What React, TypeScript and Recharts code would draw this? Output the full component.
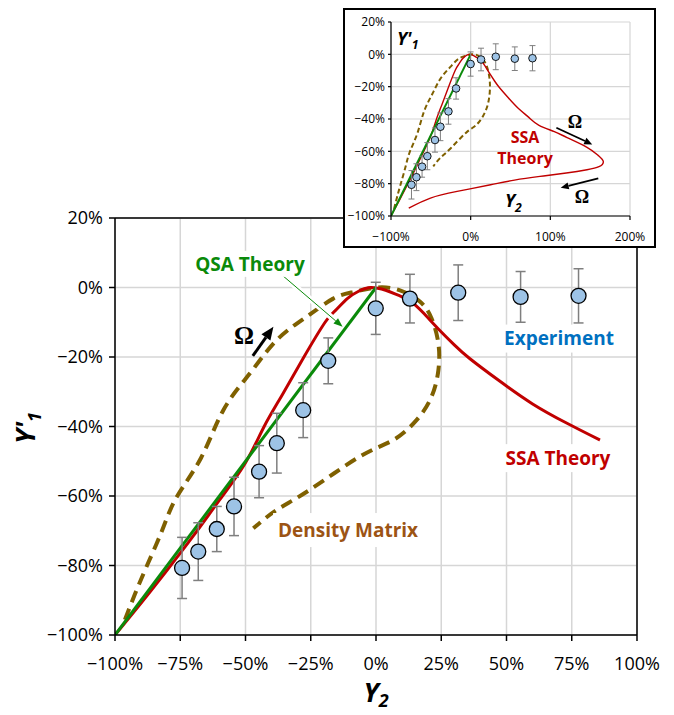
import React from "react";
import {
  CartesianGrid,
  ComposedChart,
  ErrorBar,
  Label,
  Line,
  ReferenceDot,
  ReferenceLine,
  Scatter,
  XAxis,
  YAxis,
} from "recharts";

// measured points (Y2 %, Y'1 %, error %)
const expX = [-74.3, -68.1, -61.0, -54.4, -44.8, -38.0, -27.9, -18.3, -0.1, 13.0, 31.5, 55.4, 77.6];
const expY = [-80.7, -76.0, -69.5, -63.0, -53.0, -44.8, -35.3, -21.1, -6.0, -3.2, -1.5, -2.7, -2.4];
const expErr = [8.8, 8.3, 6.5, 8.4, 7.5, 8.6, 7.9, 6.6, 7.5, 7.0, 8.0, 7.3, 7.8];

// SSA theory, branch seen in the main panel
const ssaOutX = [-100, -90, -80, -70, -60, -50, -43, -36, -28, -19.5, -15.5, -11, -6.5, -2, 3.7, 8.5, 13, 18, 24, 30, 36, 47.5, 60, 73, 85.8];
const ssaOutY = [-100, -90.8, -81.3, -71.5, -61.2, -50.4, -40.2, -31.0, -20.5, -10.0, -6.6, -3.2, -1.0, 0, -0.8, -2.2, -3.8, -7.2, -12, -16.5, -20.5, -27, -33.5, -39, -43.9];
// SSA theory, rest of the loop (inset only)
const ssaBackX = [105, 121, 146, 160, 166.5, 161, 146, 120, 87, 55, 25, -17, -50.5, -77.7];
const ssaBackY = [-47.8, -51.5, -57.5, -62.5, -66.3, -69.5, -71.4, -73.4, -75.5, -77.8, -80.7, -84.8, -88.9, -95.1];

// density matrix loop
const dmX = [-96.2, -92.5, -87.9, -82.0, -76.3, -67.0, -58.5, -48.3, -38.0, -26.6, -16.4, -8.7, 0.3, 9.2, 16.9, 21.3, 23.9, 23.9, 21.3, 15.6, 6.6, -6.1, -25.3, -38.0, -47.0];
const dmY = [-95.6, -88.5, -80.3, -70.0, -60.2, -49.0, -35.3, -24.7, -15.1, -8.4, -3.2, -1.3, 0, -0.8, -4.1, -8.9, -16.1, -23.8, -31.4, -38.1, -43.9, -48.6, -58.2, -64.0, -69.3];

// QSA theory
const qsaX = [-100, 0];
const qsaY = [-100, 0];

const mainXTicks = [-100, -75, -50, -25, 0, 25, 50, 75, 100];
const mainYTicks = [-100, -80, -60, -40, -20, 0, 20];
const insetXTicks = [-100, 0, 100, 200];
const insetYTicks = [-100, -80, -60, -40, -20, 0, 20];

const steps = (a: number, b: number, s: number) =>
  Array.from({ length: Math.round((b - a) / s) + 1 }, (_, i) => a + i * s);
const mainXMinor = steps(-100, 100, 5);
const mainYMinor = steps(-100, 20, 4);
const insetXMinor = steps(-100, 200, 20);
const insetYMinor = steps(-100, 20, 4);

const zip = (xs: number[], ys: number[]) => xs.map((x, i) => ({ x, y: ys[i] }));
const expData = expX.map((x, i) => ({ x, y: expY[i], err: expErr[i] }));
const ssaMain = zip(ssaOutX, ssaOutY);
const ssaFull = zip([...ssaOutX, ...ssaBackX], [...ssaOutY, ...ssaBackY]);
const dmData = zip(dmX, dmY);
const qsaData = zip(qsaX, qsaY);

const FONT = "'Open Sans', 'DejaVu Sans', sans-serif";
const SERIF = "'Liberation Serif', 'DejaVu Serif', serif";
const RED = "#c00000";
const GREEN = "#0a8a0a";
const DM = "#7f6000";
const PT = "#9dc3e6";
const ERR = "#7f7f7f";
const GRID = "#d6d6d6";

const pct = (v: number) => (v < 0 ? `\u2212${Math.abs(v)}%` : `${v}%`);
const blank = () => "";

const arrow = (color: string, w: number, head: number, headW: number, halo = 0) => (p: any) => {
  const { x1, y1, x2, y2 } = p;
  const len = Math.hypot(x2 - x1, y2 - y1) || 1;
  const ux = (x2 - x1) / len;
  const uy = (y2 - y1) / len;
  const bx = x2 - ux * head;
  const by = y2 - uy * head;
  const nx = (-uy * headW) / 2;
  const ny = (ux * headW) / 2;
  return (
    <g>
      {halo > 0 && <line x1={x1} y1={y1} x2={bx} y2={by} stroke="#fff" strokeWidth={halo} />}
      <line x1={x1} y1={y1} x2={bx} y2={by} stroke={color} strokeWidth={w} />
      <polygon points={`${x2},${y2} ${bx + nx},${by + ny} ${bx - nx},${by - ny}`} fill={color} />
    </g>
  );
};

const note = (
  text: string,
  color: string,
  size: number,
  opts: { box?: [number, number]; family?: string; weight?: string } = {}
) => (p: any) => (
  <g>
    {opts.box && (
      <rect
        x={p.cx - opts.box[0] / 2}
        y={p.cy - opts.box[1] / 2}
        width={opts.box[0]}
        height={opts.box[1]}
        fill="#fff"
      />
    )}
    <text
      x={p.cx}
      y={p.cy}
      dy="0.35em"
      textAnchor="middle"
      fill={color}
      fontSize={size}
      fontWeight={opts.weight ?? "bold"}
      fontFamily={opts.family ?? FONT}
    >
      {text}
    </text>
  </g>
);

const subTitle = (main: string, sub: string, size: number, anchor: "start" | "middle") => (p: any) => (
  <text x={p.cx} y={p.cy} textAnchor={anchor} fontSize={size} fontWeight="bold" fontStyle="italic" fontFamily={FONT} fill="#000">
    {main}
    <tspan dy={size * 0.25} fontSize={size * 0.68}>
      {sub}
    </tspan>
  </text>
);

function MainChart() {
  return (
    <ComposedChart width={674} height={715} margin={{ top: 218, right: 37, left: 15, bottom: 40 }}>
      <CartesianGrid stroke={GRID} strokeWidth={1.5} />
      <XAxis
        dataKey="x"
        type="number"
        domain={[-100, 100]}
        allowDataOverflow
        ticks={mainXTicks}
        interval={0}
        tickFormatter={pct}
        height={40}
        tickSize={6}
        tickMargin={16}
        axisLine={{ stroke: "#000", strokeWidth: 1.5 }}
        tickLine={{ stroke: "#000", strokeWidth: 1.5 }}
        tick={{ fill: "#000", fontSize: 18, fontFamily: FONT }}
      >
        <Label
          content={(props: any) => {
            const vb = props.viewBox;
            return (
              <text x={vb.x + vb.width / 2} y={vb.y + 67} textAnchor="middle" fontSize={27} fontWeight="bold" fontStyle="italic" fontFamily={FONT} fill="#000">
                Y
                <tspan dy={5} fontSize={18}>
                  2
                </tspan>
              </text>
            );
          }}
        />
      </XAxis>
      <XAxis
        xAxisId="minor"
        type="number"
        domain={[-100, 100]}
        allowDataOverflow
        ticks={mainXMinor}
        interval={0}
        mirror
        height={0}
        axisLine={false}
        tickSize={5}
        tickLine={{ stroke: "#000", strokeWidth: 1.5 }}
        tickFormatter={blank}
      />
      <YAxis
        dataKey="y"
        type="number"
        domain={[-100, 20]}
        allowDataOverflow
        ticks={mainYTicks}
        interval={0}
        tickFormatter={pct}
        width={100}
        tickSize={6}
        tickMargin={6}
        axisLine={{ stroke: "#000", strokeWidth: 1.5 }}
        tickLine={{ stroke: "#000", strokeWidth: 1.5 }}
        tick={{ fill: "#000", fontSize: 18, fontFamily: FONT }}
      >
        <Label
          content={(props: any) => {
            const vb = props.viewBox;
            const cx = vb.x + 20;
            const cy = vb.y + vb.height / 2 + 1.5;
            return (
              <text x={cx} y={cy} transform={`rotate(-90 ${cx} ${cy})`} textAnchor="middle" fontSize={27} fontWeight="bold" fontStyle="italic" fontFamily={FONT} fill="#000">
                Y'
                <tspan dy={6} fontSize={18}>
                  1
                </tspan>
              </text>
            );
          }}
        />
      </YAxis>
      <YAxis
        yAxisId="minor"
        type="number"
        domain={[-100, 20]}
        allowDataOverflow
        ticks={mainYMinor}
        interval={0}
        mirror
        width={0}
        axisLine={false}
        tickSize={5}
        tickLine={{ stroke: "#000", strokeWidth: 1.5 }}
        tickFormatter={blank}
      />
      <ReferenceLine y={20} stroke="#000" strokeWidth={1.5} />
      <ReferenceLine x={100} stroke="#000" strokeWidth={1.5} />

      <Line data={dmData} dataKey="y" type="natural" stroke={DM} strokeWidth={4} strokeDasharray="12 7" dot={false} activeDot={false} isAnimationActive={false} />
      <Line data={ssaMain} dataKey="y" type="natural" stroke={RED} strokeWidth={3} dot={false} activeDot={false} isAnimationActive={false} />
      <Line data={qsaData} dataKey="y" type="linear" stroke={GREEN} strokeWidth={3} dot={false} activeDot={false} isAnimationActive={false} />
      <Scatter
        data={expData}
        isAnimationActive={false}
        shape={(p: any) => <circle cx={p.cx} cy={p.cy} r={7.5} fill={PT} stroke="#000" strokeWidth={1.3} />}
      >
        <ErrorBar dataKey="err" direction="y" width={5} stroke={ERR} strokeWidth={1.5} />
      </Scatter>

      <ReferenceLine segment={[{ x: -36.8, y: 4.1 }, { x: -12.8, y: -11.3 }]} shape={arrow(GREEN, 1, 9, 7, 6)} />
      <ReferenceLine segment={[{ x: -47.2, y: -19.7 }, { x: -39.3, y: -11.3 }]} shape={arrow("#000", 3, 13, 11)} />
      <ReferenceDot x={-50.6} y={-13.7} shape={note("\u03A9", "#000", 25, { family: SERIF })} />
      <ReferenceDot x={-48.3} y={6.8} shape={note("QSA Theory", GREEN, 19, { box: [120, 26] })} />
      <ReferenceDot x={70.1} y={-14.7} shape={note("Experiment", "#0070c0", 19, { box: [120, 28] })} />
      <ReferenceDot x={69.7} y={-49.1} shape={note("SSA Theory", RED, 19, { box: [116, 28] })} />
      <ReferenceDot x={-10.7} y={-69.8} shape={note("Density Matrix", "#9c5414", 19, { box: [150, 34] })} />
    </ComposedChart>
  );
}

function InsetChart() {
  return (
    <ComposedChart width={309} height={236} margin={{ top: 12, right: 24, left: 0, bottom: 10 }}>
      <CartesianGrid stroke={GRID} strokeWidth={1.2} />
      <XAxis
        dataKey="x"
        type="number"
        domain={[-100, 200]}
        allowDataOverflow
        ticks={insetXTicks}
        interval={0}
        tickFormatter={pct}
        height={20}
        tickSize={4}
        tickMargin={12}
        axisLine={{ stroke: "#000", strokeWidth: 1.2 }}
        tickLine={{ stroke: "#000", strokeWidth: 1.2 }}
        tick={{ fill: "#000", fontSize: 12, fontFamily: FONT }}
      />
      <XAxis
        xAxisId="minor"
        type="number"
        domain={[-100, 200]}
        allowDataOverflow
        ticks={insetXMinor}
        interval={0}
        mirror
        height={0}
        axisLine={false}
        tickSize={3}
        tickLine={{ stroke: "#000", strokeWidth: 1.2 }}
        tickFormatter={blank}
      />
      <YAxis
        dataKey="y"
        type="number"
        domain={[-100, 20]}
        allowDataOverflow
        ticks={insetYTicks}
        interval={0}
        tickFormatter={pct}
        width={46}
        tickSize={3}
        tickMargin={3}
        axisLine={{ stroke: "#000", strokeWidth: 1.2 }}
        tickLine={{ stroke: "#000", strokeWidth: 1.2 }}
        tick={{ fill: "#000", fontSize: 12, fontFamily: FONT }}
      />
      <YAxis
        yAxisId="minor"
        type="number"
        domain={[-100, 20]}
        allowDataOverflow
        ticks={insetYMinor}
        interval={0}
        mirror
        width={0}
        axisLine={false}
        tickSize={3}
        tickLine={{ stroke: "#000", strokeWidth: 1.2 }}
        tickFormatter={blank}
      />

      <Line data={dmData} dataKey="y" type="natural" stroke={DM} strokeWidth={2} strokeDasharray="5 3" dot={false} activeDot={false} isAnimationActive={false} />
      <Line data={ssaFull} dataKey="y" type="natural" stroke={RED} strokeWidth={1.4} dot={false} activeDot={false} isAnimationActive={false} />
      <Line data={qsaData} dataKey="y" type="linear" stroke={GREEN} strokeWidth={2} dot={false} activeDot={false} isAnimationActive={false} />
      <Scatter
        data={expData}
        isAnimationActive={false}
        shape={(p: any) => <circle cx={p.cx} cy={p.cy} r={3.8} fill={PT} stroke="#000" strokeWidth={0.9} />}
      >
        <ErrorBar dataKey="err" direction="y" width={3} stroke={ERR} strokeWidth={1} />
      </Scatter>

      <ReferenceLine segment={[{ x: 107.6, y: -45.4 }, { x: 152.6, y: -55.7 }]} shape={arrow("#000", 1.8, 8, 7)} />
      <ReferenceLine segment={[{ x: 160.2, y: -76.7 }, { x: 113.0, y: -82.5 }]} shape={arrow("#000", 1.8, 8, 7)} />
      <ReferenceDot x={130.9} y={-41.6} shape={note("\u03A9", "#000", 18, { family: SERIF })} />
      <ReferenceDot x={139.7} y={-88.0} shape={note("\u03A9", "#000", 18, { family: SERIF })} />
      <ReferenceDot x={68.2} y={-51.2} shape={note("SSA", RED, 16)} />
      <ReferenceDot x={68.2} y={-64.1} shape={note("Theory", RED, 16)} />
      <ReferenceDot x={-92.5} y={5.8} shape={subTitle("Y'", "1", 18, "start")} />
      <ReferenceDot x={43.0} y={-94.5} shape={subTitle("Y", "2", 18, "start")} />
    </ComposedChart>
  );
}

export default function App() {
  return (
    <div style={{ position: "absolute", left: 0, top: 0, width: 674, height: 715, background: "#fff" }}>
      <MainChart />
      <div
        style={{
          position: "absolute",
          left: 343,
          top: 8,
          width: 313,
          height: 240,
          border: "2px solid #000",
          boxSizing: "border-box",
          background: "#fff",
        }}
      >
        <InsetChart />
      </div>
    </div>
  );
}
